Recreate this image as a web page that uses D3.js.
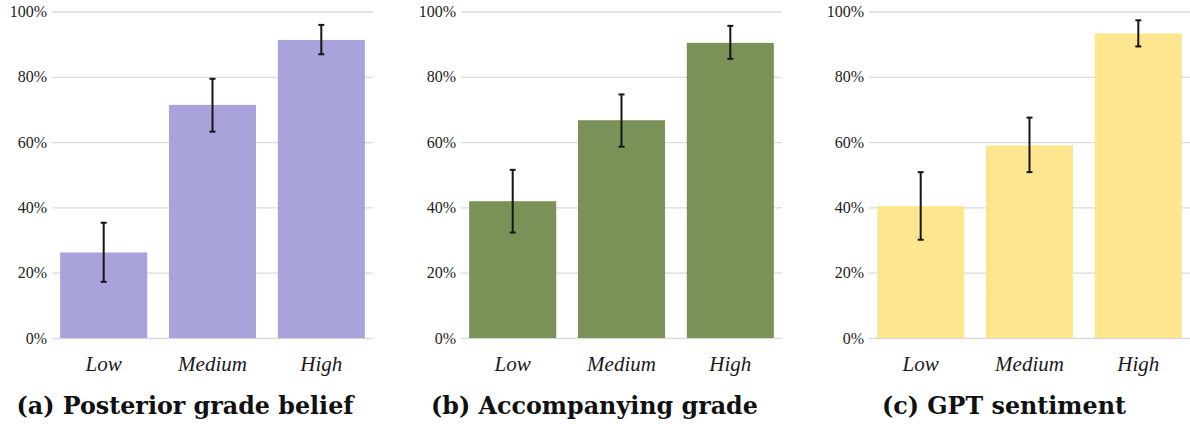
<!DOCTYPE html>
<html>
<head>
<meta charset="utf-8">
<script src="https://cdn.jsdelivr.net/npm/d3@7"></script>
<style>
  html, body { margin: 0; padding: 0; background: #fff; }
  svg { display: block; }
  .lbl { font-family: "Liberation Serif", "Times New Roman", serif; }
  .cap { font-family: "DejaVu Serif", serif; font-weight: bold; }
</style>
</head>
<body>
<svg id="chart" width="1190" height="424"></svg>
<script>
// Share of responses by level, with 95% confidence intervals
const categories = ["Low", "Medium", "High"];
const yTicks = [0, 0.2, 0.4, 0.6, 0.8, 1.0];

const panelTitles = ["(a) Posterior grade belief", "(b) Accompanying grade", "(c) GPT sentiment"];
const panelColors = ["#a8a4db", "#7a9258", "#fee68f"];

const beliefMean  = [0.262, 0.714, 0.913];
const beliefLow   = [0.172, 0.632, 0.869];
const beliefHigh  = [0.353, 0.794, 0.959];

const gradeMean   = [0.419, 0.667, 0.904];
const gradeLow    = [0.323, 0.586, 0.855];
const gradeHigh   = [0.515, 0.746, 0.956];

const gptMean     = [0.404, 0.590, 0.933];
const gptLow      = [0.301, 0.508, 0.893];
const gptHigh     = [0.508, 0.675, 0.973];

const panels = [
  { title: panelTitles[0], color: panelColors[0], mean: beliefMean, lo: beliefLow, hi: beliefHigh },
  { title: panelTitles[1], color: panelColors[1], mean: gradeMean,  lo: gradeLow,  hi: gradeHigh },
  { title: panelTitles[2], color: panelColors[2], mean: gptMean,    lo: gptLow,    hi: gptHigh }
];

// layout
const plotLeft = [52, 461, 869];
const plotWidth = 321;
const captionCenter = [185, 594.5, 1004];
const yBottom = 338, yTop = 11.5;

const svg = d3.select("#chart");

const y = d3.scaleLinear().domain([0, 1]).range([yBottom, yTop]);

panels.forEach((p, i) => {
  const g = svg.append("g").attr("transform", `translate(${plotLeft[i]},0)`);

  const x = d3.scaleBand()
    .domain(categories)
    .range([0, plotWidth])
    .paddingInner(0.2)
    .paddingOuter(0.075);

  // gridlines + y labels
  const yAxis = g.append("g")
    .call(d3.axisLeft(y).tickValues(yTicks).tickFormat(d3.format(".0%")).tickSize(-plotWidth).tickPadding(5))
    .attr("font-family", null).attr("font-size", null);
  yAxis.select(".domain").remove();
  yAxis.selectAll(".tick line").attr("stroke", "#dadada").attr("stroke-width", 1.3);
  yAxis.selectAll(".tick text")
    .attr("class", "lbl").style("font-size", "16px").attr("fill", "#222");

  // bars
  g.selectAll("rect.bar")
    .data(categories)
    .join("rect")
    .attr("class", "bar")
    .attr("x", d => x(d))
    .attr("width", x.bandwidth())
    .attr("y", (d, k) => y(p.mean[k]))
    .attr("height", (d, k) => y(0) - y(p.mean[k]))
    .attr("fill", p.color);

  // error bars
  const eb = g.selectAll("g.err")
    .data(categories)
    .join("g")
    .attr("class", "err")
    .attr("stroke", "#151515")
    .attr("stroke-width", 2);
  const cx = d => x(d) + x.bandwidth() / 2;
  eb.append("line")
    .attr("x1", cx).attr("x2", cx)
    .attr("y1", (d, k) => y(p.lo[k])).attr("y2", (d, k) => y(p.hi[k]));
  eb.append("line")
    .attr("x1", d => cx(d) - 3).attr("x2", d => cx(d) + 3)
    .attr("y1", (d, k) => y(p.lo[k])).attr("y2", (d, k) => y(p.lo[k]));
  eb.append("line")
    .attr("x1", d => cx(d) - 3).attr("x2", d => cx(d) + 3)
    .attr("y1", (d, k) => y(p.hi[k])).attr("y2", (d, k) => y(p.hi[k]));

  // category labels
  const xAxis = g.append("g")
    .attr("transform", `translate(0,${yBottom})`)
    .call(d3.axisBottom(x).tickSize(0).tickPadding(0))
    .attr("font-family", null).attr("font-size", null);
  xAxis.select(".domain").remove();
  xAxis.selectAll(".tick text")
    .attr("dy", null)
    .attr("y", 33)
    .attr("class", "lbl")
    .style("font-style", "italic")
    .style("font-size", "21px").attr("fill", "#1a1a1a");

  // caption
  svg.append("text")
    .attr("class", "cap")
    .attr("x", captionCenter[i])
    .attr("y", 413.5)
    .attr("text-anchor", "middle")
    .style("font-size", "23.8px")
    .attr("fill", "#111")
    .text(p.title);
});
</script>
</body>
</html>
